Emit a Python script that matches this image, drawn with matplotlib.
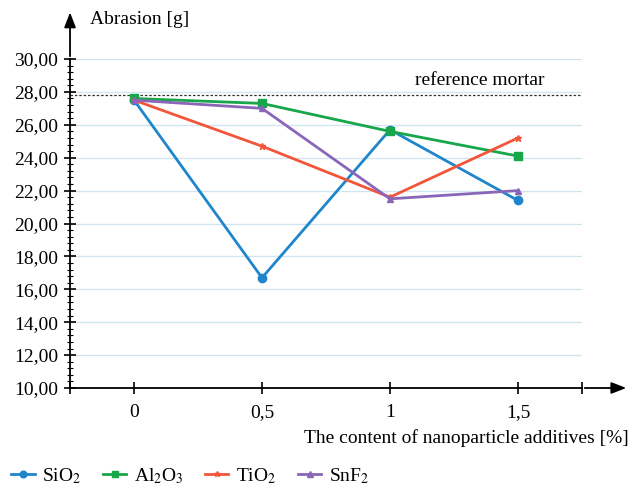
import numpy as np
import matplotlib
matplotlib.use("Agg")
import matplotlib.pyplot as plt
from matplotlib.ticker import MultipleLocator, FuncFormatter

plt.rcParams['font.family'] = ['Liberation Serif', 'DejaVu Serif']
plt.rcParams['mathtext.fontset'] = 'stix'

# data
content = [0, 0.5, 1, 1.5]
sio2 = [27.5, 16.7, 25.7, 21.4]
al2o3 = [27.6, 27.3, 25.6, 24.1]
tio2 = [27.5, 24.7, 21.6, 25.2]
snf2 = [27.5, 27.0, 21.5, 22.0]
reference = 27.8

fig = plt.figure(figsize=(6.32, 4.91), dpi=100)
ax = fig.add_axes([0.1108, 0.2098, 0.810, 0.670])

ax.set_xlim(-0.25, 1.75)
ax.set_ylim(10, 30)

for y in np.arange(12, 31, 2):
    ax.axhline(y, color="#cfe6f2", lw=0.9, zorder=0)
ax.axhline(reference, color="#333333", lw=0.9, ls=(0, (2, 1.5)), zorder=1)
ax.text(1.35, reference + 0.35, "reference mortar", fontsize=14, ha="center", va="bottom")

l1, = ax.plot(content, sio2, color="#1f86cc", lw=2, marker="o", ms=6, label="SiO$_2$")
l2, = ax.plot(content, al2o3, color="#17a64a", lw=2, marker="s", ms=6, label="Al$_2$O$_3$")
l3, = ax.plot(content, tio2, color="#f2553a", lw=2, marker="*", ms=5, label="TiO$_2$")
l4, = ax.plot(content, snf2, color="#8a66b8", lw=2, marker="^", ms=5, label="SnF$_2$")

for s in ["top", "right"]:
    ax.spines[s].set_visible(False)
ax.spines["left"].set_linewidth(1.3)
ax.spines["bottom"].set_linewidth(1.3)

ax.yaxis.set_major_locator(MultipleLocator(2))
ax.yaxis.set_minor_locator(MultipleLocator(0.4))
ax.yaxis.set_major_formatter(FuncFormatter(lambda v, p: f"{v:.2f}".replace(".", ",")))
ax.set_xticks([-0.25, 0, 0.5, 1, 1.5, 1.75])
ax.set_xticklabels(["", "0", "0,5", "1", "1,5", ""])
ax.tick_params(axis="both", direction="inout", length=9, width=1.2, labelsize=14, pad=4)
ax.tick_params(axis="y", which="minor", direction="inout", length=4, width=0.8)
ax.tick_params(axis="x", pad=7)

ax.annotate("", xy=(0, 1.15), xytext=(0, 1.0), xycoords="axes fraction",
            arrowprops=dict(arrowstyle="-|>,head_length=0.9,head_width=0.35", color="black", lw=1.3))
ax.annotate("", xy=(1.092, 0), xytext=(1.0, 0), xycoords="axes fraction",
            arrowprops=dict(arrowstyle="-|>,head_length=0.9,head_width=0.35", color="black", lw=1.3))

fig.text(0.142, 0.96, "Abrasion [g]", fontsize=14, ha="left", va="center")
fig.text(0.995, 0.108, "The content of nanoparticle additives [%]", fontsize=14, ha="right", va="center")

fig.legend(handles=[l1, l2, l3, l4], loc="lower left", bbox_to_anchor=(-0.01, -0.025), ncol=4,
           frameon=False, fontsize=14, handlelength=1.2, handletextpad=0.4, columnspacing=1.1,
           markerscale=0.8)

fig.savefig("out.png", dpi=100)
